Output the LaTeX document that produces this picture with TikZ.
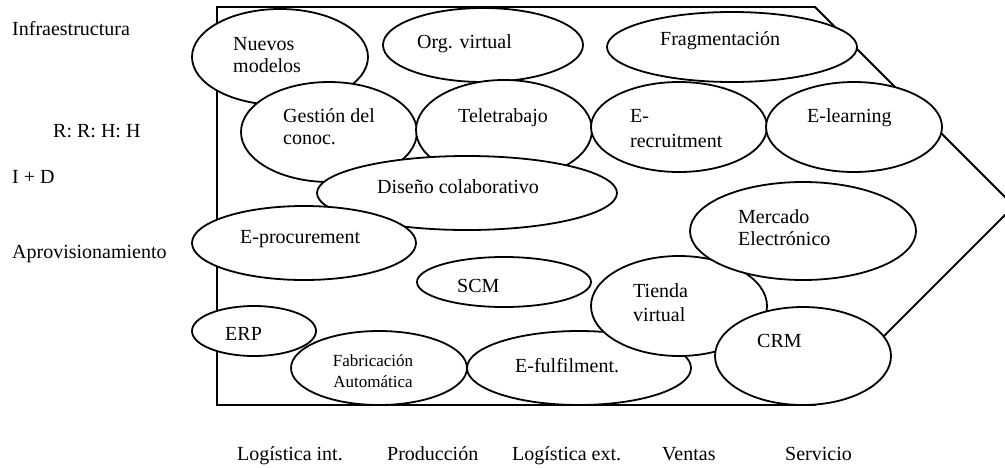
\documentclass[tikz,border=0pt]{standalone}
\usepackage{fontspec}
\setmainfont{Liberation Serif}
\usetikzlibrary{shapes.geometric}
\tikzset{
  ell/.style={ellipse, draw, fill=white, line width=1.8pt, inner sep=0pt},
  frameline/.style={draw, line width=1.8pt, line join=miter},
  txt/.style={anchor=base west, inner sep=0pt, font=\fontsize{20}{23}\selectfont},
  smalltxt/.style={anchor=base, inner sep=0pt, font=\fontsize{17}{21}\selectfont},
}
\begin{document}
\begin{tikzpicture}[x=1pt,y=-1pt]
\useasboundingbox (0,0) rectangle (1005,467);
\clip (0,0) rectangle (1005,467);
% frame
\coordinate (f1) at (217,7);
\coordinate (f2) at (815,7);
\coordinate (f3) at (1014,206);
\coordinate (f4) at (815,405);
\coordinate (f5) at (217,405);
\draw[frameline] (f1) -- (f2) -- (f3) -- (f4) -- (f5) -- cycle;
% ellipses
\node[ell, minimum width=176pt, minimum height=96pt] (nuevos) at (280,57) {};
\node[ell, minimum width=200pt, minimum height=74pt] (orgv) at (483,45) {};
\node[ell, minimum width=250pt, minimum height=70pt] (frag) at (732,47) {};
\node[ell, minimum width=176pt, minimum height=100pt] (gest) at (329,132) {};
\node[ell, minimum width=176pt, minimum height=100pt] (tele) at (504,130) {};
\node[ell, minimum width=176pt, minimum height=90pt] (erec) at (679,127) {};
\node[ell, minimum width=176pt, minimum height=90pt] (elearn) at (854,127) {};
\node[ell, minimum width=300pt, minimum height=74pt] (diseno) at (467,193) {};
\node[ell, minimum width=224pt, minimum height=74pt] (eproc) at (304,243) {};
\node[ell, minimum width=174pt, minimum height=50pt] (scm) at (504,282) {};
\node[ell, minimum width=224pt, minimum height=74pt] (efulf) at (579,368) {};
\node[ell, minimum width=176pt, minimum height=100pt] (tienda) at (679,306) {};
\node[ell, minimum width=226pt, minimum height=98pt] (mercado) at (803,231) {};
\node[ell, minimum width=124pt, minimum height=50pt] (erp) at (254,331) {};
\node[ell, minimum width=176pt, minimum height=74pt] (fabric) at (379,368) {};
\node[ell, minimum width=176pt, minimum height=98pt] (crm) at (803,356) {};
% ellipse texts
\node[txt] (tnuevosa) at (233,50) {Nuevos};
\node[txt] (tnuevosb) at (233,72) {modelos};
\node[txt] (torgv) at (417,48) {Org. virtual};
\node[txt] (tfrag) at (660,45) {Fragmentación};
\node[txt] (tgesta) at (283,122) {Gestión del};
\node[txt] (tgestb) at (283,144) {conoc.};
\node[txt] (ttele) at (458,122) {Teletrabajo};
\node[txt] (tereca) at (630,122) {E-};
\node[txt] (terecb) at (630,147) {recruitment};
\node[txt] (telearn) at (807,122) {E-learning};
\node[txt] (tdiseno) at (377,193) {Diseño colaborativo};
\node[txt] (tmercadoa) at (738,223) {Mercado};
\node[txt] (tmercadob) at (738,245) {Electrónico};
\node[txt] (teproc) at (240,243) {E-procurement};
\node[txt] (tscm) at (457,292) {SCM};
\node[txt] (ttiendaa) at (633,297) {Tienda};
\node[txt] (ttiendab) at (633,321) {virtual};
\node[txt] (terp) at (225,340) {ERP};
\node[smalltxt] (tfabrica) at (373,366) {Fabricación};
\node[smalltxt] (tfabricb) at (373,387) {Automática};
\node[txt] (tefulf) at (515,372) {E-fulfilment.};
\node[txt] (tcrm) at (757,347) {CRM};
% row labels
\node[txt] (rinfra) at (12,35) {Infraestructura};
\node[txt] (rrrhh) at (53,137) {R: R: H: H};
\node[txt] (rid) at (12,183) {I + D};
\node[txt] (raprov) at (12,258) {Aprovisionamiento};
% column labels
\node[txt] (clogint) at (237,460) {Logística int.};
\node[txt] (cprod) at (387,460) {Producción};
\node[txt] (clogext) at (512,460) {Logística ext.};
\node[txt] (cventas) at (662,460) {Ventas};
\node[txt] (cserv) at (785,460) {Servicio};
\end{tikzpicture}
\end{document}
